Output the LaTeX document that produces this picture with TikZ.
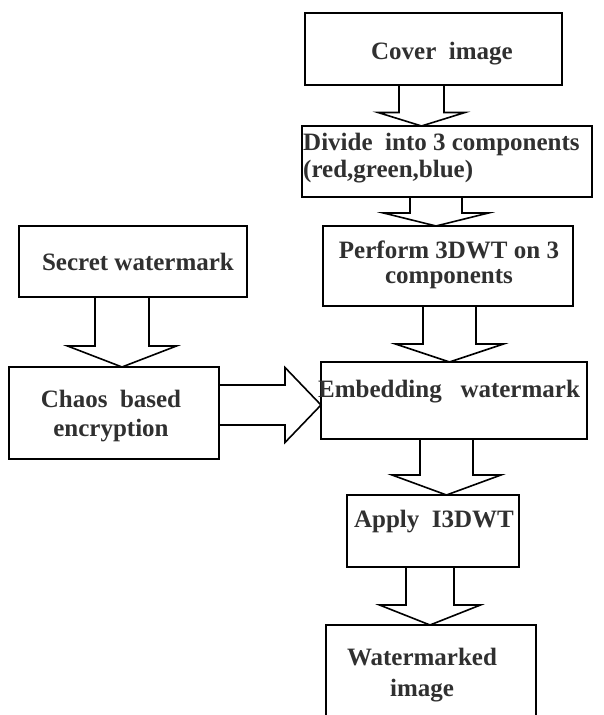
\documentclass[tikz,border=0pt]{standalone}
\usepackage{fontspec}
\setmainfont{Liberation Serif}
\usetikzlibrary{calc}
\definecolor{txtc}{HTML}{303030}
\tikzset{
  box/.style={draw=black, line width=1.8pt, fill=white, inner sep=0pt, outer sep=0pt},
  lbl/.style={text=txtc, font=\bfseries\fontsize{25}{27}\selectfont, inner sep=0pt, align=center},
  barrow/.style={draw=black, line width=1.6pt, fill=white, line join=miter},
}
% block arrow downwards: from, to, x centre, shaft half width, head half width, head length
\newcommand\bdn[6]{\draw[barrow] let \p1=(#1.south), \p2=(#2.north) in
  (#3pt-#4pt,\y1) -- (#3pt-#4pt,\y2+#6pt) -- (#3pt-#5pt,\y2+#6pt) -- (#3pt,\y2)
  -- (#3pt+#5pt,\y2+#6pt) -- (#3pt+#4pt,\y2+#6pt) -- (#3pt+#4pt,\y1) -- cycle;}
\begin{document}
\begin{tikzpicture}[x=1pt,y=1pt]
\useasboundingbox (0,0) rectangle (603,715);
\fill[white] (0,0) rectangle (603,715);
% boxes
\node[box, minimum width=257pt, minimum height=72pt] (cover)   at (433.5,666) {};
\node[box, minimum width=290pt, minimum height=71pt] (divide)  at (447,553.5) {};
\node[box, minimum width=228pt, minimum height=71pt] (secret)  at (133,453.5) {};
\node[box, minimum width=250pt, minimum height=80pt] (perform) at (448,449) {};
\node[box, minimum width=210pt, minimum height=92pt] (chaos)   at (114,302) {};
\node[box, minimum width=266pt, minimum height=77pt] (emb)     at (454,314.5) {};
\node[box, minimum width=172pt, minimum height=72pt] (apply)   at (433,184) {};
\node[box, minimum width=210pt, minimum height=100pt] (water)  at (431,40) {};
% texts
\node[lbl] (tcover) at (442,661) {Cover\ \ image};
\node[lbl, align=left, anchor=west] (tdivide) at (303,556.5) {Divide\ \ into 3 components\\(red,green,blue)};
\node[lbl] (tsecret) at (138,453) {Secret watermark};
\node[lbl, font=\bfseries\fontsize{25}{25}\selectfont] (tperform) at (449,450.5) {Perform 3DWT on 3\\components};
\node[lbl, font=\bfseries\fontsize{25}{29}\selectfont] (tchaos) at (111,298.5) {Chaos\ \ based\\encryption};
\node[lbl] (temb) at (449,323) {Embedding\ \ \ watermark};
\node[lbl] (tapply) at (434,193) {Apply\ \ I3DWT};
\node[lbl, font=\bfseries\fontsize{25}{31}\selectfont] (twater) at (422,40) {Watermarked\\image};
% block arrows
\bdn{cover}{divide}{421.5}{22.5}{43.5}{13.5}
\bdn{divide}{perform}{436}{26}{52.5}{13}
\bdn{secret}{chaos}{122}{27}{54.5}{21}
\bdn{perform}{emb}{449.5}{26.5}{54}{18}
\bdn{emb}{apply}{446.5}{26.5}{54.5}{20}
\bdn{apply}{water}{430}{24}{50.5}{20}
\draw[barrow] let \p1=(chaos.east), \p2=(emb.west) in
  (\x1,330) -- (\x2-36pt,330) -- (\x2-36pt,347.5) -- (\x2,310) -- (\x2-36pt,272.5)
  -- (\x2-36pt,290) -- (\x1,290) -- cycle;
\end{tikzpicture}
\end{document}
